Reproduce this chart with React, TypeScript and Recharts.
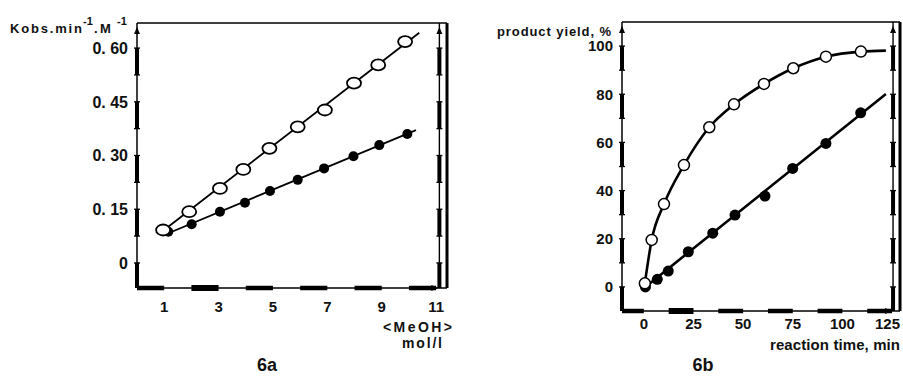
import React from "react";
import {
  ComposedChart,
  Line,
  Scatter,
  XAxis,
  YAxis,
  ReferenceLine,
  ReferenceDot,
} from "recharts";

// 6a: k_obs against [MeOH]
const meohOpen = [0.96, 1.92, 3.05, 3.91, 4.87, 5.91, 6.91, 7.98, 8.87, 9.86];
const kobsOpen = [0.092, 0.143, 0.208, 0.261, 0.32, 0.38, 0.427, 0.502, 0.553, 0.618];
const meohFilled = [1.15, 2.01, 3.05, 3.97, 4.89, 5.91, 6.88, 7.96, 8.91, 9.94];
const kobsFilled = [0.087, 0.108, 0.143, 0.168, 0.201, 0.232, 0.264, 0.298, 0.329, 0.36];
const fitOpenA = [
  [0.96, 0.09],
  [10.38, 0.643],
];
const fitFilledA = [
  [1.15, 0.083],
  [10.26, 0.371],
];
const kobsTicks = [0, 0.15, 0.3, 0.45, 0.6];
const kobsTickLabels = ["0", "0. 15", "0. 30", "0. 45", "0. 60"];
const kobsMinorTicks = [0.075, 0.225, 0.375, 0.525];
const meohTicks = [1, 3, 5, 7, 9, 11];
const meohBars = [0, 2, 4, 6, 8, 10];

// 6b: product yield against reaction time
const timeOpen = [0.5, 3.95, 10.15, 20.2, 32.96, 45.4, 60.5, 75.25, 91.7, 109.3];
const yieldOpen = [1.5, 19.5, 34.4, 50.6, 66.3, 75.8, 84.3, 90.8, 95.6, 97.7];
const curveEndB = [121.9, 98.1];
const timeFilled = [0.8, 6.77, 12.3, 22.4, 34.7, 45.9, 61.0, 74.95, 91.7, 109.2];
const yieldFilled = [0, 3.15, 6.6, 14.6, 22.3, 29.85, 37.7, 49.2, 59.6, 72.3];
const fitFilledB = [
  [0.8, 0],
  [121.9, 80.1],
];
const yieldTicks = [0, 20, 40, 60, 80, 100];
const yieldTickLabels = ["0", "20", "40", "60", "80", "100"];
const yieldMinorTicks = [10, 30, 50, 70, 90];
const timeTicks = [0, 25, 50, 75, 100, 125];
const timeBars = [-12.5, 12.5, 37.5, 62.5, 87.5, 112.5];

const FONT = "'Liberation Sans', Arial, sans-serif";
const INK = "#111";

const toPts = (xs: number[], ys: number[]) => xs.map((x, i) => ({ x, y: ys[i] }));
const pairs = (p: number[][]) => p.map(([x, y]) => ({ x, y }));

interface PanelProps {
  left: number;
  width: number;
  margin: { top: number; right: number; bottom: number; left: number };
  plotW: number;
  plotH: number;
  xDomain: [number, number];
  yDomain: [number, number];
  innerX: number;
  yTicks: number[];
  yLabels: string[];
  yMinor: number[];
  yStep: number;
  xTicks: number[];
  xBars: number[];
  xStep: number;
  yFont: number;
  xFont: number;
  xLabelDy: number;
  children: React.ReactNode;
}

function Panel(p: PanelProps) {
  const [x0, x1] = p.xDomain;
  const [y0, y1] = p.yDomain;
  const ppx = p.plotW / (x1 - x0);
  const ppy = p.plotH / (y1 - y0);
  const dx = 3 / ppx;
  const seg = (a: { x: number; y: number }, b: { x: number; y: number }, w: number, key: string) => (
    <ReferenceLine
      key={key}
      segment={[a, b]}
      stroke="#000"
      strokeWidth={w}
      ifOverflow="visible"
    />
  );

  const deco: React.ReactNode[] = [];
  // frame and thin axis lines
  deco.push(seg({ x: x0, y: y1 }, { x: x1, y: y1 }, 1.5, "top"));
  deco.push(seg({ x: x0, y: y0 }, { x: x0, y: y1 }, 1.5, "left"));
  deco.push(seg({ x: x0, y: y0 }, { x: x1, y: y0 }, 1.5, "bottom"));
  deco.push(seg({ x: x1, y: y0 }, { x: x1, y: y1 }, 3, "outer"));
  deco.push(seg({ x: p.innerX, y: y0 }, { x: p.innerX, y: y1 }, 1.4, "inner"));
  // thick scale bars on the two vertical axes
  [x0, p.innerX].forEach((ax, j) => {
    p.yTicks.forEach((t, i) => {
      deco.push(seg({ x: ax, y: Math.max(t - p.yStep / 2, y0) }, { x: ax, y: t }, 4, `yb${j}-${i}`));
    });
    [...p.yTicks, ...p.yMinor].forEach((t, i) => {
      deco.push(seg({ x: ax - dx, y: t }, { x: ax + dx, y: t }, 1.3, `yt${j}-${i}`));
    });
  });
  // thick bars on the bottom axis
  p.xBars.forEach((b, i) => {
    deco.push(
      seg({ x: Math.max(b, x0), y: y0 }, { x: b + p.xStep / 2, y: y0 }, i === 1 ? 6 : 4.5, `xb${i}`)
    );
  });

  const upArrow = (props: any) => (
    <path
      d={`M${props.cx - 3},${props.cy} L${props.cx},${props.cy - 7} L${props.cx + 3},${props.cy} Z`}
      fill="#000"
    />
  );
  const rightArrow = (props: any) => (
    <path
      d={`M${props.cx},${props.cy - 3} L${props.cx + 7},${props.cy} L${props.cx},${props.cy + 3} Z`}
      fill="#000"
    />
  );
  deco.push(
    <ReferenceDot key="a1" x={x0} y={y1 - 11 / ppy} r={3} ifOverflow="visible" shape={upArrow} />
  );
  deco.push(
    <ReferenceDot key="a2" x={p.innerX} y={y1 - 11 / ppy} r={3} ifOverflow="visible" shape={upArrow} />
  );
  deco.push(
    <ReferenceDot key="a3" x={p.innerX - 8 / ppx} y={y0} r={3} ifOverflow="visible" shape={rightArrow} />
  );

  const chartRight = p.width - p.margin.right;

  return (
    <div style={{ position: "absolute", left: p.left, top: 0 }}>
      <ComposedChart width={p.width} height={376} margin={p.margin}>
        <XAxis
          type="number"
          dataKey="x"
          domain={p.xDomain}
          allowDataOverflow
          ticks={p.xTicks}
          interval={0}
          height={30}
          tickSize={0}
          tickMargin={0}
          tickLine={false}
          axisLine={false}
          tick={(t: any) => {
            const label = String(t.payload.value);
            const half = (label.length * 0.556 * p.xFont) / 2;
            const cx = Math.min(t.x, chartRight - half);
            return (
              <text
                x={cx}
                y={t.y + p.xLabelDy}
                textAnchor="middle"
                fontFamily={FONT}
                fontWeight="bold"
                fontSize={p.xFont}
                fill={INK}
              >
                {label}
              </text>
            );
          }}
        />
        <YAxis
          type="number"
          dataKey="y"
          domain={p.yDomain}
          allowDataOverflow
          ticks={p.yTicks}
          interval={0}
          width={40}
          tickSize={0}
          tickMargin={0}
          tickLine={false}
          axisLine={false}
          tick={(t: any) => (
            <text
              x={t.x - 9}
              y={t.y + p.yFont * 0.36}
              textAnchor="end"
              fontFamily={FONT}
              fontWeight="bold"
              fontSize={p.yFont}
              fill={INK}
            >
              {p.yLabels[p.yTicks.indexOf(t.payload.value)]}
            </text>
          )}
        />
        {deco}
        {p.children}
      </ComposedChart>
    </div>
  );
}

const openEllipse = (props: any) => (
  <ellipse cx={props.cx} cy={props.cy} rx={7} ry={5.5} fill="#fff" stroke="#000" strokeWidth={1.8} />
);
const filledDotA = (props: any) => <circle cx={props.cx} cy={props.cy} r={5} fill="#000" />;
const openDotB = (props: any) => (
  <circle cx={props.cx} cy={props.cy} r={5.5} fill="#fff" stroke="#000" strokeWidth={1.5} />
);
const filledDotB = (props: any) => <circle cx={props.cx} cy={props.cy} r={5.5} fill="#000" />;

export default function App() {
  return (
    <div style={{ position: "absolute", left: 0, top: 0, width: 903, height: 376, background: "#fff" }}>
      <Panel
        left={0}
        width={460}
        margin={{ top: 23, right: 13, bottom: 58, left: 97 }}
        plotW={310}
        plotH={265}
        xDomain={[0, 11.4]}
        yDomain={[-0.07, 0.67]}
        innerX={11.12}
        yTicks={kobsTicks}
        yLabels={kobsTickLabels}
        yMinor={kobsMinorTicks}
        yStep={0.15}
        xTicks={meohTicks}
        xBars={meohBars}
        xStep={2}
        yFont={16}
        xFont={15}
        xLabelDy={24}
      >
        <Line data={pairs(fitOpenA)} dataKey="y" type="linear" stroke="#000" strokeWidth={1.8} dot={false} isAnimationActive={false} />
        <Line data={pairs(fitFilledA)} dataKey="y" type="linear" stroke="#000" strokeWidth={1.8} dot={false} isAnimationActive={false} />
        <Scatter data={toPts(meohFilled, kobsFilled)} dataKey="y" shape={filledDotA} isAnimationActive={false} />
        <Scatter data={toPts(meohOpen, kobsOpen)} dataKey="y" shape={openEllipse} isAnimationActive={false} />
      </Panel>
      <Panel
        left={460}
        width={443}
        margin={{ top: 22, right: 3, bottom: 35, left: 122 }}
        plotW={278}
        plotH={289}
        xDomain={[-11, 129]}
        yDomain={[-10, 110]}
        innerX={125.5}
        yTicks={yieldTicks}
        yLabels={yieldTickLabels}
        yMinor={yieldMinorTicks}
        yStep={20}
        xTicks={timeTicks}
        xBars={timeBars}
        xStep={25}
        yFont={15}
        xFont={15}
        xLabelDy={18}
      >
        <Line
          data={[...toPts(timeOpen, yieldOpen), { x: curveEndB[0], y: curveEndB[1] }]}
          dataKey="y"
          type="monotone"
          stroke="#000"
          strokeWidth={2.6}
          dot={false}
          isAnimationActive={false}
        />
        <Line data={pairs(fitFilledB)} dataKey="y" type="linear" stroke="#000" strokeWidth={2.6} dot={false} isAnimationActive={false} />
        <Scatter data={toPts(timeFilled, yieldFilled)} dataKey="y" shape={filledDotB} isAnimationActive={false} />
        <Scatter data={toPts(timeOpen, yieldOpen)} dataKey="y" shape={openDotB} isAnimationActive={false} />
      </Panel>
      <svg
        width={903}
        height={376}
        style={{ position: "absolute", left: 0, top: 0, pointerEvents: "none" }}
        fontFamily={FONT}
        fontWeight="bold"
        fill={INK}
      >
        <text x={10} y={33} fontSize={13} textLength={72} lengthAdjust="spacing">Kobs.min</text>
        <text x={83} y={25} fontSize={11}>-1</text>
        <text x={94} y={33} fontSize={13}>.</text>
        <text x={100} y={33} fontSize={13}>M</text>
        <text x={117} y={25} fontSize={11}>-1</text>
        <text x={383} y={332} fontSize={14} textLength={69} lengthAdjust="spacing">&lt;MeOH&gt;</text>
        <text x={402} y={348} fontSize={14} textLength={40} lengthAdjust="spacing">mol/l</text>
        <text x={267} y={371} fontSize={18} textAnchor="middle">6a</text>
        <text x={497} y={36} fontSize={13} textLength={114} lengthAdjust="spacing">product yield, %</text>
        <text x={770} y={350} fontSize={15} textLength={130} lengthAdjust="spacing">reaction time, min</text>
        <text x={703} y={371} fontSize={18} textAnchor="middle">6b</text>
      </svg>
    </div>
  );
}
